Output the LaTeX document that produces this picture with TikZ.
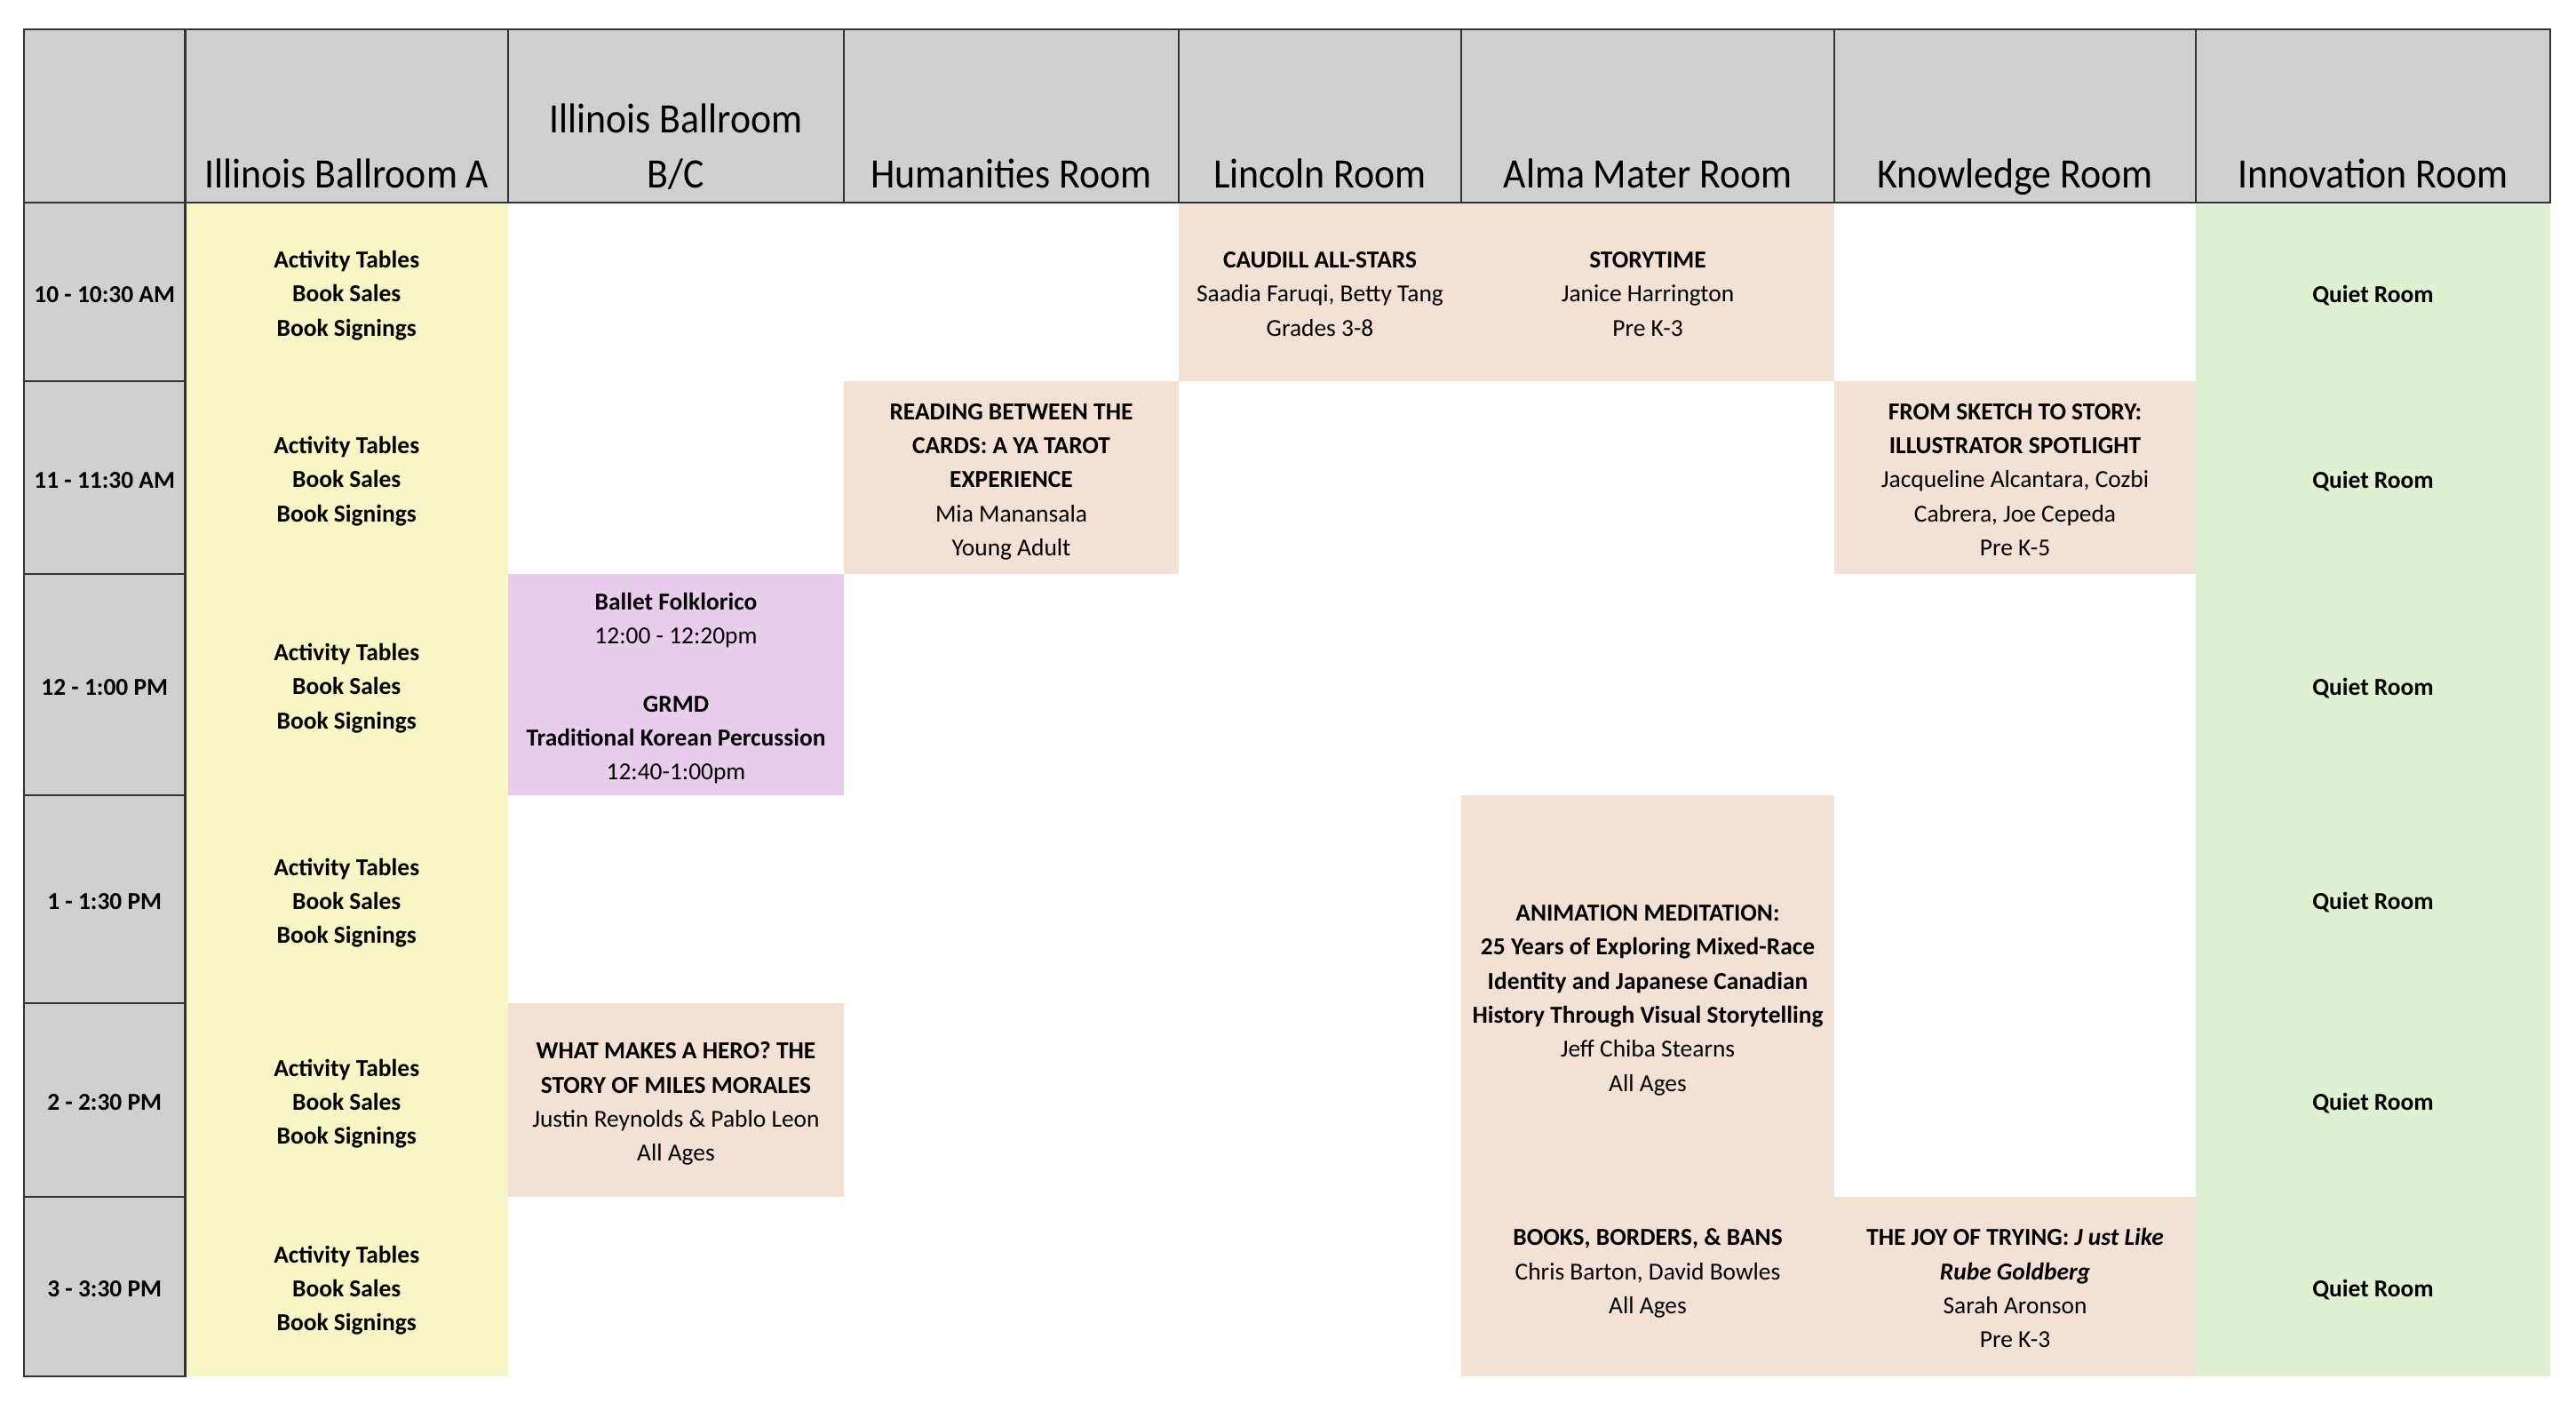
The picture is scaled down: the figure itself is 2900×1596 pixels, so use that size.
\documentclass[tikz,border=0pt]{standalone}
\usepackage{fontspec}
\setmainfont{Carlito}
\newfontfamily\roomface[FakeStretch=0.93]{Carlito}
\usepackage{xcolor}

\definecolor{hdrgray}{HTML}{D0D0D0}
\definecolor{tableyellow}{HTML}{F8F5C6}
\definecolor{panelpeach}{HTML}{F4E1D6}
\definecolor{perfpurple}{HTML}{E8CEEC}
\definecolor{quietgreen}{HTML}{DFF0D3}

\newcommand{\bodyfont}{\fontsize{7.8pt}{10.9pt}\selectfont}
\newcommand{\hdrfont}{\roomface\fontsize{13.4pt}{17.55pt}\selectfont}

\tikzset{
  gridline/.style={line width=0.6pt, draw=black!80},
  roomlabel/.style={font=\hdrfont, align=center, inner sep=0pt, anchor=base},
  slot/.style={font=\bodyfont, align=center, inner sep=0pt, anchor=base},
  boldslot/.style={slot, font=\bodyfont\bfseries},
}

\begin{document}
\begin{tikzpicture}[x=0.01cm, y=-0.01cm]
\useasboundingbox (0,0) rectangle (2900,1596);

% cell fills
\fill[hdrgray] (27,33) rectangle (2871,228);
\fill[hdrgray] (27,228) rectangle (208.5,1549);
\fill[tableyellow] (208.5,228) rectangle (572,1549);
\fill[quietgreen] (2472,228) rectangle (2871,1549);
\fill[panelpeach] (1327,228) rectangle (2065,429);
\fill[panelpeach] (950,429) rectangle (1327,646);
\fill[panelpeach] (2065,429) rectangle (2472,646);
\fill[perfpurple] (572,646) rectangle (950,895);
\fill[panelpeach] (1645,895) rectangle (2065,1549);
\fill[panelpeach] (572,1129) rectangle (950,1347);
\fill[panelpeach] (2065,1347) rectangle (2472,1549);

% header and time column borders
\draw[gridline] (27,33) rectangle (2871,228);
\draw[gridline] (208.5,33) -- (208.5,228);
\draw[gridline] (572,33) -- (572,228);
\draw[gridline] (950,33) -- (950,228);
\draw[gridline] (1327,33) -- (1327,228);
\draw[gridline] (1645,33) -- (1645,228);
\draw[gridline] (2065,33) -- (2065,228);
\draw[gridline] (2472,33) -- (2472,228);
\draw[gridline] (27,228) -- (27,1549) -- (208.5,1549) -- (208.5,228);
\draw[gridline] (27,429) -- (208.5,429);
\draw[gridline] (27,646) -- (208.5,646);
\draw[gridline] (27,895) -- (208.5,895);
\draw[gridline] (27,1129) -- (208.5,1129);
\draw[gridline] (27,1347) -- (208.5,1347);

% room names (baseline of last line)
\node[roomlabel] (roomA) at (390.25,211) {Illinois Ballroom A};
\node[roomlabel] (roomBC) at (761,211) {Illinois Ballroom\\B/C};
\node[roomlabel] (roomHum) at (1138.5,211) {Humanities Room};
\node[roomlabel] (roomLin) at (1486,211) {Lincoln Room};
\node[roomlabel] (roomAlma) at (1855,211) {Alma Mater Room};
\node[roomlabel] (roomKnow) at (2268.5,211) {Knowledge Room};
\node[roomlabel] (roomInno) at (2671.5,211) {Innovation Room};

% time slots
\node[boldslot] (t1) at (117.75,340) {10 - 10:30 AM};
\node[boldslot] (t2) at (117.75,549) {11 - 11:30 AM};
\node[boldslot] (t3) at (117.75,782) {12 - 1:00 PM};
\node[boldslot] (t4) at (117.75,1023.5) {1 - 1:30 PM};
\node[boldslot] (t5) at (117.75,1249.5) {2 - 2:30 PM};
\node[boldslot] (t6) at (117.75,1459.5) {3 - 3:30 PM};

% ballroom A, all day
\node[boldslot] (act1) at (390.25,378.3) {Activity Tables\\Book Sales\\Book Signings};
\node[boldslot] (act2) at (390.25,587.3) {Activity Tables\\Book Sales\\Book Signings};
\node[boldslot] (act3) at (390.25,820.3) {Activity Tables\\Book Sales\\Book Signings};
\node[boldslot] (act4) at (390.25,1061.8) {Activity Tables\\Book Sales\\Book Signings};
\node[boldslot] (act5) at (390.25,1287.8) {Activity Tables\\Book Sales\\Book Signings};
\node[boldslot] (act6) at (390.25,1497.8) {Activity Tables\\Book Sales\\Book Signings};

% innovation room, all day
\node[boldslot] (quiet1) at (2671.5,340) {Quiet Room};
\node[boldslot] (quiet2) at (2671.5,549) {Quiet Room};
\node[boldslot] (quiet3) at (2671.5,782) {Quiet Room};
\node[boldslot] (quiet4) at (2671.5,1023.5) {Quiet Room};
\node[boldslot] (quiet5) at (2671.5,1249.5) {Quiet Room};
\node[boldslot] (quiet6) at (2671.5,1459.5) {Quiet Room};

% sessions
\node[slot] (caudill) at (1486,378.3) {\textbf{CAUDILL ALL-STARS}\\Saadia Faruqi, Betty Tang\\Grades 3-8};
\node[slot] (story) at (1855,378.3) {\textbf{STORYTIME}\\Janice Harrington\\Pre K-3};
\node[slot] (tarot) at (1138.5,625.6) {\textbf{READING BETWEEN THE}\\\textbf{CARDS: A YA TAROT}\\\textbf{EXPERIENCE}\\Mia Manansala\\Young Adult};
\node[slot] (sketch) at (2268.5,625.6) {\textbf{FROM SKETCH TO STORY:}\\\textbf{ILLUSTRATOR SPOTLIGHT}\\Jacqueline Alcantara, Cozbi\\Cabrera, Joe Cepeda\\Pre K-5};
\node[slot] (ballet) at (761,877.7) {\textbf{Ballet Folklorico}\\12:00 - 12:20pm\\[10.9pt]\textbf{GRMD}\\\textbf{Traditional Korean Percussion}\\12:40-1:00pm};
\node[slot] (anim) at (1855,1228.2) {\textbf{ANIMATION MEDITATION:}\\\textbf{25 Years of Exploring Mixed-Race}\\\textbf{Identity and Japanese Canadian}\\\textbf{History Through Visual Storytelling}\\Jeff Chiba Stearns\\All Ages};
\node[slot] (hero) at (761,1306.9) {\textbf{WHAT MAKES A HERO? THE}\\\textbf{STORY OF MILES MORALES}\\Justin Reynolds \& Pablo Leon\\All Ages};
\node[slot] (bans) at (1855,1478.6) {\textbf{BOOKS, BORDERS, \& BANS}\\Chris Barton, David Bowles\\All Ages};
\node[slot] (joy) at (2268.5,1516.9) {\textbf{THE JOY OF TRYING: \textit{J ust Like}}\\\textbf{\textit{Rube Goldberg}}\\Sarah Aronson\\Pre K-3};
\end{tikzpicture}
\end{document}
